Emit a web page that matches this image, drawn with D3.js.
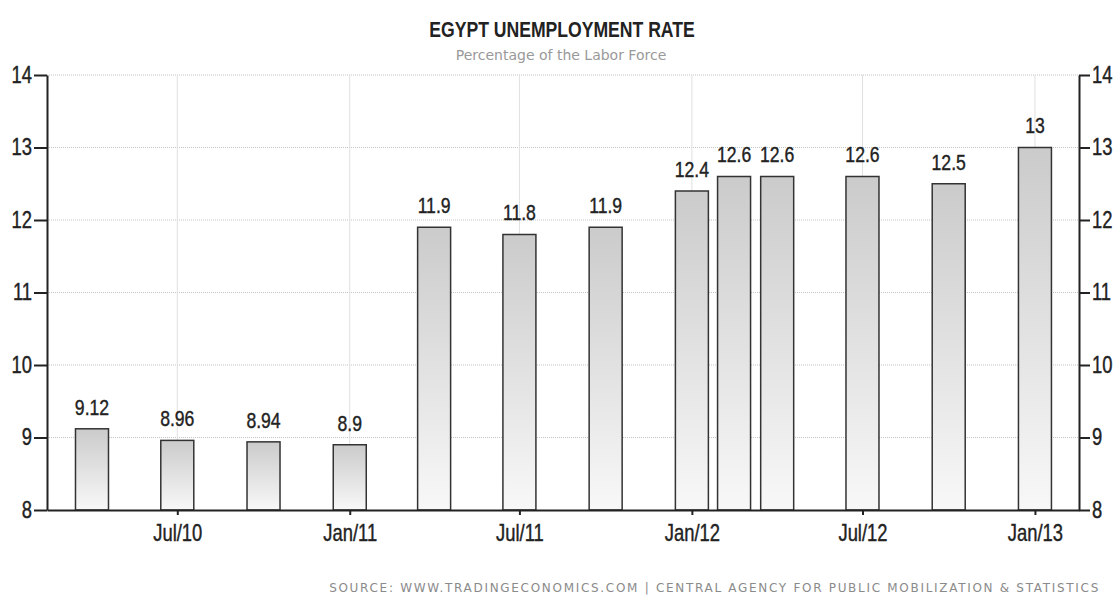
<!DOCTYPE html>
<html>
<head>
<meta charset="utf-8">
<script src="https://cdn.jsdelivr.net/npm/d3@7"></script>
<style>
  body { margin: 0; background: #fff; }
  svg { display: block; font-family: "Liberation Sans", Arial, sans-serif; }
</style>
</head>
<body>
<svg id="chart"></svg>
<script>
// data
const dates = ['2010-04-01', '2010-07-01', '2010-10-01', '2011-01-01', '2011-04-01', '2011-07-01',
    '2011-10-01', '2012-01-01', '2012-02-15', '2012-04-01', '2012-07-01', '2012-10-01', '2013-01-01'];
const rates = [9.12, 8.96, 8.94, 8.9, 11.9, 11.8, 11.9, 12.4, 12.6, 12.6, 12.6, 12.5, 13];
const valueLabels = ['9.12', '8.96', '8.94', '8.9', '11.9', '11.8', '11.9', '12.4', '12.6', '12.6', '12.6', '12.5', '13'];
const tickDates = ['2010-07-01', '2011-01-01', '2011-07-01', '2012-01-01', '2012-07-01', '2013-01-01'];
const yTicks = [8, 9, 10, 11, 12, 13, 14];

const size = {w: 1116, h: 600};
const plot = {l: 47, r: 1079, t: 75, b: 510};
const squeezeK = 0.8;   // no narrow font installed, so squash Liberation Sans horizontally

const svg = d3.select('svg#chart')
    .attr('width', size.w)
    .attr('height', size.h);

const parse = d3.timeParse('%Y-%m-%d');
const fmt = d3.timeFormat('%b/%y');

// horizontal squash around each text's own x
function squeeze(sel) {
    sel.each(function() {
        const t = d3.select(this);
        const tx = +t.attr('x') || 0;
        t.attr('transform', `translate(${tx},0) scale(${squeezeK},1) translate(${-tx},0)`);
    });
}

const x = d3.scaleTime()
    .domain([parse('2010-02-12'), parse('2013-02-17')])
    .range([plot.l, plot.r]);
const y = d3.scaleLinear()
    .domain([8, 14])
    .range([plot.b, plot.t]);

const data = dates.map((d, i) => ({date: parse(d), value: rates[i], label: valueLabels[i]}));
const barW = 33;

// gradient for bars
const grad = svg.append('defs').append('linearGradient')
    .attr('id', 'barGrad')
    .attr('x1', 0).attr('y1', 0).attr('x2', 0).attr('y2', 1);
grad.append('stop').attr('offset', '0%').attr('stop-color', '#cbcbcb');
grad.append('stop').attr('offset', '100%').attr('stop-color', '#f8f8f8');

// title
svg.append('text')
    .attr('x', 562).attr('y', 37)
    .attr('text-anchor', 'middle')
    .attr('font-size', 22)
    .attr('font-weight', 'bold')
    .attr('fill', '#222')
    .text('EGYPT UNEMPLOYMENT RATE')
    .call(squeeze);
svg.append('text')
    .attr('x', 561).attr('y', 60)
    .attr('text-anchor', 'middle')
    .attr('font-size', 14)
    .attr('font-family', '"DejaVu Sans", sans-serif')
    .attr('fill', '#999')
    .text('Percentage of the Labor Force');

// grid
const grid = svg.append('g');
grid.selectAll('line.h')
    .data(yTicks.slice(1))
    .join('line')
    .attr('class', 'h')
    .attr('x1', plot.l).attr('x2', plot.r)
    .attr('y1', d => y(d)).attr('y2', d => y(d))
    .attr('stroke', '#c4c4c4')
    .attr('stroke-dasharray', '1,1');
grid.selectAll('line.v')
    .data(tickDates.map(parse))
    .join('line')
    .attr('class', 'v')
    .attr('x1', d => x(d)).attr('x2', d => x(d))
    .attr('y1', plot.t).attr('y2', plot.b)
    .attr('stroke', '#e0e0e0');

// bars
svg.append('g').selectAll('rect')
    .data(data)
    .join('rect')
    .attr('x', d => x(d.date) - barW / 2)
    .attr('y', d => y(d.value))
    .attr('width', barW)
    .attr('height', d => y(8) - y(d.value))
    .attr('fill', 'url(#barGrad)')
    .attr('stroke', '#333')
    .attr('stroke-width', 1.5);

// value labels
svg.append('g').selectAll('text')
    .data(data)
    .join('text')
    .attr('x', d => x(d.date))
    .attr('y', d => y(d.value) - 14)
    .attr('text-anchor', 'middle')
    .attr('font-size', 22)
    .attr('fill', '#222')
    .attr('stroke', '#222')
    .attr('stroke-width', 0.4)
    .text(d => d.label)
    .call(squeeze);

// axes
const axisStyle = g => {
    g.select('.domain').attr('stroke', '#222').attr('stroke-width', 2);
    g.selectAll('.tick line').attr('stroke', '#222').attr('stroke-width', 2);
    g.selectAll('.tick text').attr('fill', '#222').attr('font-size', 23)
        .attr('stroke', '#222').attr('stroke-width', 0.4)
        .attr('font-family', '"Liberation Sans", Arial, sans-serif')
        .call(squeeze);
};

svg.append('g')
    .attr('transform', `translate(${plot.l},0)`)
    .call(d3.axisLeft(y).tickValues(yTicks).tickFormat(d3.format('d')).tickSize(13).tickSizeOuter(0).tickPadding(2))
    .call(axisStyle);

svg.append('g')
    .attr('transform', `translate(${plot.r},0)`)
    .call(d3.axisRight(y).tickValues(yTicks).tickFormat(d3.format('d')).tickSize(11).tickSizeOuter(0).tickPadding(2))
    .call(axisStyle);

svg.append('g')
    .attr('transform', `translate(0,${plot.b})`)
    .call(d3.axisBottom(x).tickValues(tickDates.map(parse)).tickFormat(fmt).tickSize(5).tickSizeOuter(0).tickPadding(10))
    .call(axisStyle);

// source
svg.append('text')
    .attr('x', 1100).attr('y', 592)
    .attr('text-anchor', 'end')
    .attr('font-size', 12)
    .attr('letter-spacing', 1.7)
    .attr('fill', '#8a8a8a')
    .attr('font-family', '"DejaVu Sans", sans-serif')
    .text('SOURCE: WWW.TRADINGECONOMICS.COM | CENTRAL AGENCY FOR PUBLIC MOBILIZATION & STATISTICS');
</script>
</body>
</html>
